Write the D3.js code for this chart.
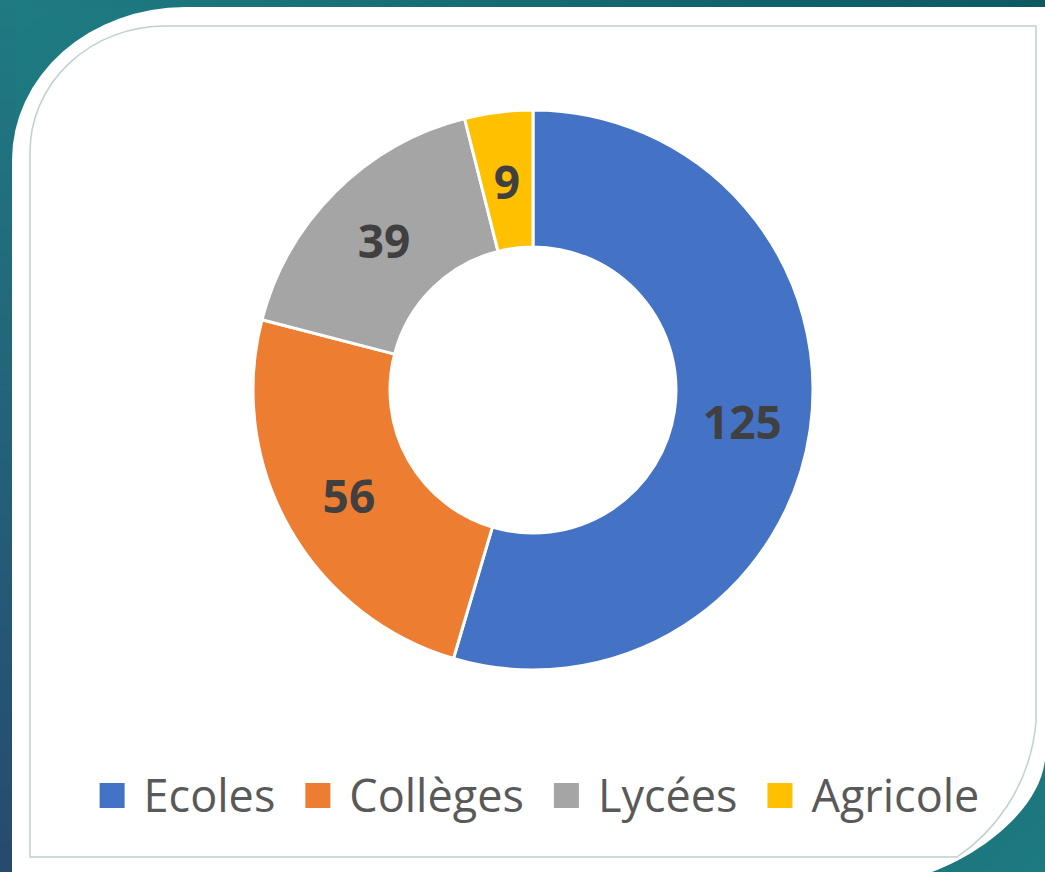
<!DOCTYPE html>
<html><head><meta charset="utf-8">
<script src="https://cdn.jsdelivr.net/npm/d3@7"></script>
<style>html,body{margin:0;padding:0;overflow:hidden;background:#fff}</style>
</head><body>
<svg id="c" width="1045" height="872"></svg>
<script>
const categories = ["Ecoles", "Collèges", "Lycées", "Agricole"];
const values = [125, 56, 39, 9];
const colors = ["#4472C4", "#ED7D31", "#A5A5A5", "#FFC000"];

const svg = d3.select("#c");
const W = 1045, H = 872;
const defs = svg.append("defs");
const g1 = defs.append("linearGradient").attr("id","bg").attr("x1","0").attr("y1","0").attr("x2","1").attr("y2","1");
g1.append("stop").attr("offset","0").attr("stop-color","#1f7c83");
g1.append("stop").attr("offset","0.5").attr("stop-color","#12616b");
g1.append("stop").attr("offset","1").attr("stop-color","#1d7a80");
const g2 = defs.append("linearGradient").attr("id","bgl").attr("x1","0").attr("y1","0").attr("x2","0").attr("y2","1");
g2.append("stop").attr("offset","0").attr("stop-color","#1f7a82");
g2.append("stop").attr("offset","1").attr("stop-color","#274a6f");
const g3 = defs.append("linearGradient").attr("id","bgt").attr("x1","0").attr("y1","0").attr("x2","1").attr("y2","0");
g3.append("stop").attr("offset","0").attr("stop-color","#1f7b82");
g3.append("stop").attr("offset","1").attr("stop-color","#0c5962");

svg.append("rect").attr("width",W).attr("height",H).attr("fill","url(#bg)");
svg.append("rect").attr("x",0).attr("y",0).attr("width",16).attr("height",H).attr("fill","url(#bgl)");
svg.append("rect").attr("x",0).attr("y",0).attr("width",W).attr("height",8).attr("fill","url(#bgt)");

// white frame
svg.append("path")
  .attr("d","M12,160 A173,153 0 0 1 185,7 L1045,7 L1045,760 C1040,805 990,850 932,872 L12,872 Z")
  .attr("fill","#ffffff");
// inner border line
svg.append("path")
  .attr("d","M30,857 L30,152 A135,126 0 0 1 165,26 L1036,26 L1036,722 C1030,790 990,835 957,857 Z")
  .attr("fill","none").attr("stroke","#bfd0d0").attr("stroke-width",1.5);

const cx = 533, cy = 390, R = 280, r = 143;
const pie = d3.pie().sort(null).value(d => d.v)(values.map((v,i)=>({v, name:categories[i], c:colors[i]})));
const arc = d3.arc().innerRadius(r).outerRadius(R);
const labelArc = d3.arc().innerRadius((r+R)/2).outerRadius((r+R)/2);
const gp = svg.append("g").attr("transform",`translate(${cx},${cy})`);
gp.selectAll("path.s").data(pie).join("path").attr("class","s")
  .attr("d", arc).attr("fill", d => d.data.c)
  .attr("stroke","#fff").attr("stroke-width",3).attr("stroke-linejoin","round");
gp.selectAll("text.l").data(pie).join("text").attr("class","l")
  .attr("transform", d => { const p = labelArc.centroid(d); return `translate(${p[0]},${p[1]+2})`; })
  .attr("text-anchor","middle").attr("dy","0.36em")
  .attr("font-family","'Open Sans', sans-serif").attr("font-weight",700)
  .attr("font-size",46).attr("fill","#404040")
  .text(d => d.data.v);

// legend
const lg = svg.append("g");
const items = lg.selectAll("g").data(categories).join("g");
items.append("rect").attr("width",25).attr("height",25).attr("y",-29)
  .attr("fill",(d,i)=>colors[i]);
items.append("text").attr("x",44).attr("y",0)
  .attr("font-family","'Open Sans', sans-serif").attr("font-size",45).attr("fill","#595959")
  .text(d=>d);
let x = 0;
items.each(function(){
  d3.select(this).attr("transform",`translate(${x},0)`);
  const tw = d3.select(this).select("text").node().getComputedTextLength();
  x += 44 + tw + 30;
});
const total = x - 30;
lg.attr("transform",`translate(${539.5 - total/2},812)`);
</script>
</body></html>
